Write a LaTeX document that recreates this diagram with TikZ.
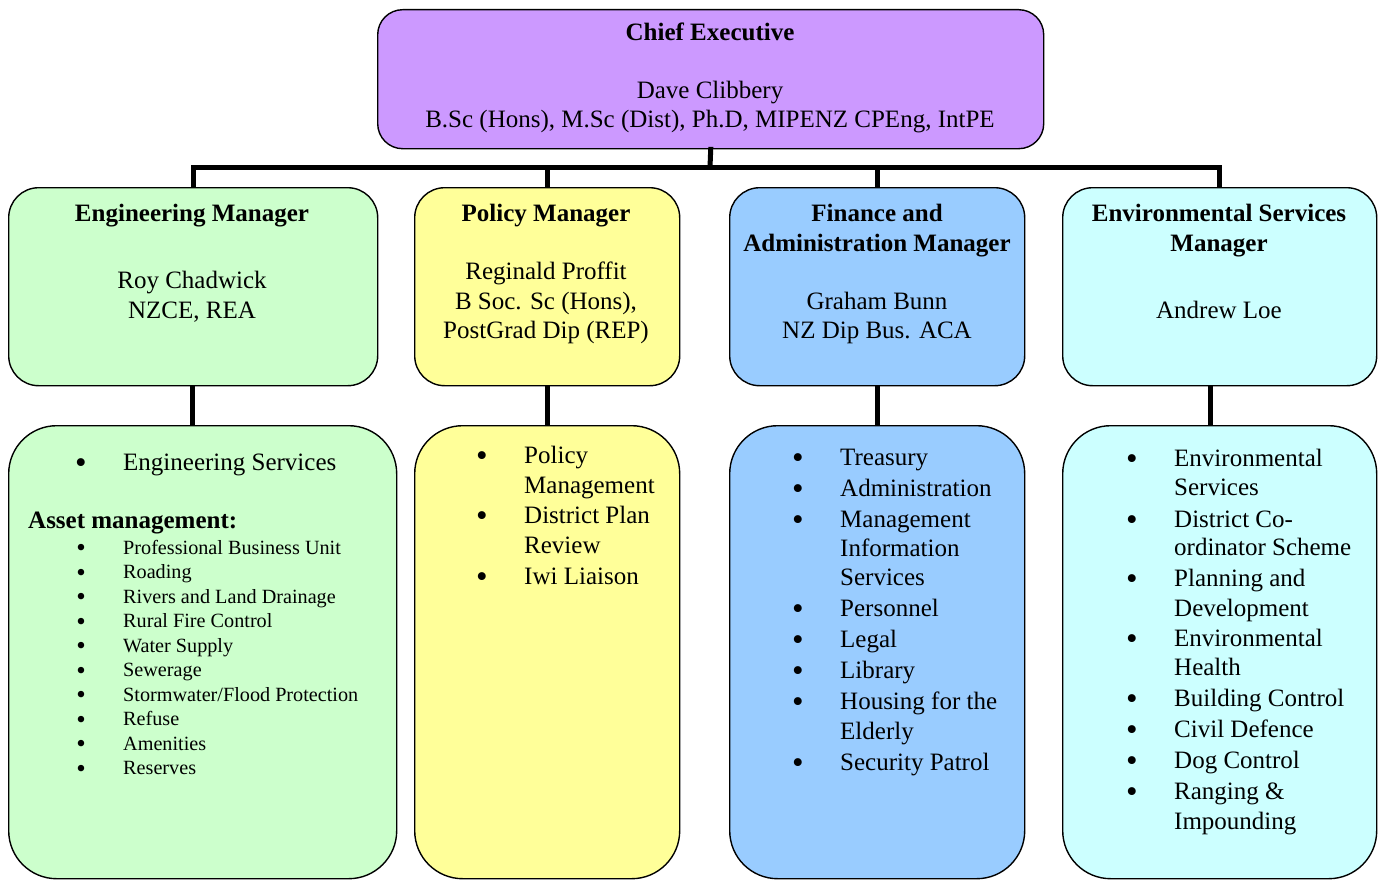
\documentclass[tikz,border=0pt]{standalone}
\usepackage{fontspec}
\setmainfont{Liberation Serif}
\definecolor{cepurple}{HTML}{CC99FF}
\definecolor{enggreen}{HTML}{CCFFCC}
\definecolor{polyellow}{HTML}{FFFF99}
\definecolor{finblue}{HTML}{99CCFF}
\definecolor{envcyan}{HTML}{CCFFFF}
\tikzset{
  box/.style={draw, line width=1.4pt, anchor=north west, inner sep=0pt},
  mgr/.style={box, rounded corners=30pt, minimum height=198pt},
  lst/.style={box, rounded corners=48pt, minimum height=453pt},
  big/.style={font=\fontsize{25}{30}\selectfont, inner sep=0pt, anchor=base},
  bigl/.style={big, anchor=base west},
  small/.style={font=\fontsize{20.2}{24}\selectfont, inner sep=0pt, anchor=base west},
  bul/.style={font=\fontsize{33}{30}\selectfont, inner sep=0pt, anchor=base, yshift=-3pt},
  sbul/.style={font=\fontsize{27}{24}\selectfont, inner sep=0pt, anchor=base, yshift=-2.5pt},
  conn/.style={line width=5pt},
}
\begin{document}
\begin{tikzpicture}[x=1pt,y=-1pt]
\useasboundingbox (0,0) rectangle (1383,880);
% boxes
\node[box, rounded corners=25pt, fill=cepurple, minimum width=666pt, minimum height=139pt] (ce) at (377,9) {};
\node[mgr, fill=enggreen, minimum width=369pt] (em) at (8,187) {};
\node[mgr, fill=polyellow, minimum width=265pt] (pm) at (414,187) {};
\node[mgr, fill=finblue, minimum width=295pt] (fm) at (729,187) {};
\node[mgr, fill=envcyan, minimum width=314pt] (vm) at (1062,187) {};
\node[lst, fill=enggreen, minimum width=388pt] (el) at (8,425) {};
\node[lst, fill=polyellow, minimum width=265pt] (pl) at (414,425) {};
\node[lst, fill=finblue, minimum width=295pt] (fl) at (729,425) {};
\node[lst, fill=envcyan, minimum width=314pt] (vl) at (1062,425) {};
% connectors
\coordinate (bar) at (710,167);
\draw[conn] (em.north) |- (bar);
\draw[conn] (vm.north) |- (bar);
\draw[conn, line cap=rect] (ce.south) -- (bar);
\draw[conn] (pm.north) -- (pm.north |- bar);
\draw[conn] (fm.north) -- (fm.north |- bar);
\coordinate (engc) at (192,385);
\coordinate (envc) at (1210,385);
\draw[conn] (engc) -- (engc |- el.north);
\draw[conn] (pm.south) -- (pl.north);
\draw[conn] (fm.south) -- (fl.north);
\draw[conn] (envc) -- (envc |- vl.north);
% chief executive
\node[big] (ce1) at (710,41) {\textbf{Chief Executive}};
\node[big] (ce2) at (710,99) {Dave Clibbery};
\node[big] (ce3) at (710,128) {B.Sc (Hons), M.Sc (Dist), Ph.D, MIPENZ CPEng, IntPE};
% managers
\node[big] (em1) at (192,221) {\textbf{Engineering Manager}};
\node[big] (em2) at (192,288) {Roy Chadwick};
\node[big] (em3) at (192,318) {NZCE, REA};
\node[big] (pm1) at (546,221) {\textbf{Policy Manager}};
\node[big] (pm2) at (546,279) {Reginald Proffit};
\node[big] (pm3) at (546,309) {B Soc. Sc (Hons),};
\node[big] (pm4) at (546,338) {PostGrad Dip (REP)};
\node[big] (fm1) at (877,221) {\textbf{Finance and}};
\node[big] (fm2) at (877,251) {\textbf{Administration Manager}};
\node[big] (fm3) at (877,309) {Graham Bunn};
\node[big] (fm4) at (877,338) {NZ Dip Bus. ACA};
\node[big] (vm1) at (1219,221) {\textbf{Environmental Services}};
\node[big] (vm2) at (1219,251) {\textbf{Manager}};
\node[big] (vm3) at (1219,318) {Andrew Loe};
% engineering list
\node[bul] (eb0) at (81,470) {\textbullet};
\node[bigl] (et0) at (123,470) {Engineering Services};
\node[bigl] (eh) at (28,528) {\textbf{Asset management:}};
\foreach \t [count=\i from 0] in {Professional Business Unit, Roading, Rivers and Land Drainage, Rural Fire Control, Water Supply, Sewerage, Stormwater/Flood Protection, Refuse, Amenities, Reserves}{
  \node[sbul] (ebs\i) at (81,554+24.5*\i) {\textbullet};
  \node[small] (ets\i) at (123,554+24.5*\i) {\t};
}
% policy list
\node[bul] (pb1) at (482,463) {\textbullet};
\node[bigl] (pt1) at (524,463) {Policy};
\node[bigl] (pt2) at (524,493) {Management};
\node[bul] (pb3) at (482,523) {\textbullet};
\node[bigl] (pt3) at (524,523) {District Plan};
\node[bigl] (pt4) at (524,553) {Review};
\node[bul] (pb5) at (482,584) {\textbullet};
\node[bigl] (pt5) at (524,584) {Iwi Liaison};
% finance list
\node[bul] (fb1) at (798,465) {\textbullet};
\node[bigl] (ft1) at (840,465) {Treasury};
\node[bul] (fb2) at (798,496) {\textbullet};
\node[bigl] (ft2) at (840,496) {Administration};
\node[bul] (fb3) at (798,527) {\textbullet};
\node[bigl] (ft3) at (840,527) {Management};
\node[bigl] (ft4) at (840,556) {Information};
\node[bigl] (ft5) at (840,585) {Services};
\node[bul] (fb6) at (798,616) {\textbullet};
\node[bigl] (ft6) at (840,616) {Personnel};
\node[bul] (fb7) at (798,647) {\textbullet};
\node[bigl] (ft7) at (840,647) {Legal};
\node[bul] (fb8) at (798,678) {\textbullet};
\node[bigl] (ft8) at (840,678) {Library};
\node[bul] (fb9) at (798,709) {\textbullet};
\node[bigl] (ft9) at (840,709) {Housing for the};
\node[bigl] (ft10) at (840,739) {Elderly};
\node[bul] (fb11) at (798,770) {\textbullet};
\node[bigl] (ft11) at (840,770) {Security Patrol};
% environmental list
\node[bul] (vb1) at (1132,466) {\textbullet};
\node[bigl] (vt1) at (1174,466) {Environmental};
\node[bigl] (vt2) at (1174,495) {Services};
\node[bul] (vb3) at (1132,527) {\textbullet};
\node[bigl] (vt3) at (1174,527) {District Co-};
\node[bigl] (vt4) at (1174,555) {ordinator Scheme};
\node[bul] (vb5) at (1132,586) {\textbullet};
\node[bigl] (vt5) at (1174,586) {Planning and};
\node[bigl] (vt6) at (1174,616) {Development};
\node[bul] (vb7) at (1132,646) {\textbullet};
\node[bigl] (vt7) at (1174,646) {Environmental};
\node[bigl] (vt8) at (1174,675) {Health};
\node[bul] (vb9) at (1132,706) {\textbullet};
\node[bigl] (vt9) at (1174,706) {Building Control};
\node[bul] (vb10) at (1132,737) {\textbullet};
\node[bigl] (vt10) at (1174,737) {Civil Defence};
\node[bul] (vb11) at (1132,768) {\textbullet};
\node[bigl] (vt11) at (1174,768) {Dog Control};
\node[bul] (vb12) at (1132,799) {\textbullet};
\node[bigl] (vt12) at (1174,799) {Ranging \&};
\node[bigl] (vt13) at (1174,829) {Impounding};
\end{tikzpicture}
\end{document}
